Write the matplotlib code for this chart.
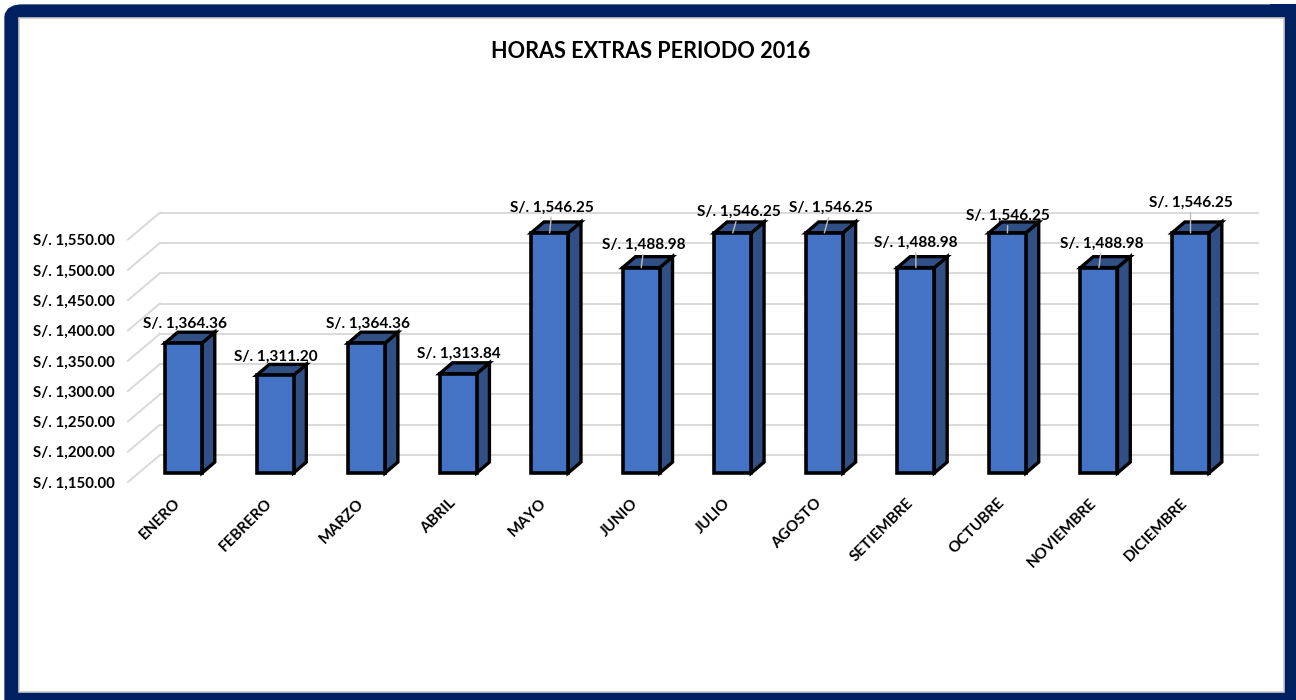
import matplotlib
matplotlib.use("Agg")
import matplotlib.pyplot as plt
from matplotlib.patches import Polygon, Rectangle, FancyBboxPatch
from matplotlib.transforms import ScaledTranslation

plt.rcParams['font.family'] = ['Lato', 'DejaVu Sans']
plt.rcParams['font.weight'] = 'bold'

# Data
months = ["ENERO", "FEBRERO", "MARZO", "ABRIL", "MAYO", "JUNIO", "JULIO",
          "AGOSTO", "SETIEMBRE", "OCTUBRE", "NOVIEMBRE", "DICIEMBRE"]
amounts = [1364.36, 1311.20, 1364.36, 1313.84, 1546.25, 1488.98, 1546.25,
           1546.25, 1488.98, 1546.25, 1488.98, 1546.25]
y_ticks = [1150, 1200, 1250, 1300, 1350, 1400, 1450, 1500, 1550]

# Label offsets from the bar top (pixels) and which ones have a leader line
label_dx = [1.5, 1, 1.5, 1, 2.5, 3, 6, 7, 0, 0.5, 3, 0]
label_dy = [19, 19, 19, 19.5, 25, 23, 21, 25, 25, 17, 24, 30]
has_leader = [False, False, False, False, True, True, True, True, True, True, True, True]

# Colours
navy = "#002060"
front_color = "#4472C4"
side_color = "#2F4F85"
grid_color = "#D9D9D9"

# Fake 3D depth, in axis units
bar_width = 0.404
bar_dx = 0.14
bar_dy = 18
wall_dx = 0.35   # front edge of the side wall to the back wall
back_dy = 29.7   # back wall above the bar fronts
wall_dy = -14.85 # front edge of the side wall below the bar fronts

W, H = 1296, 700
fig = plt.figure(figsize=(W / 100, H / 100), dpi=100, facecolor="white")


def fx(px):
    return px / W


def fy(px):
    return 1 - px / H


# Frame
fig.patches.append(FancyBboxPatch((fx(12), fy(712)), fx(1296), fy(12) - fy(712),
                                  boxstyle="round,pad=0,rounding_size=0.008",
                                  transform=fig.transFigure, facecolor=navy,
                                  edgecolor=navy, linewidth=11, zorder=-2))
# the top right corner is square in the reference
fig.patches.append(Rectangle((fx(1270), fy(40)), fx(30), fy(4.4) - fy(40),
                             transform=fig.transFigure, facecolor=navy,
                             edgecolor="none", zorder=-2))
fig.patches.append(Rectangle((fx(19), fy(692)), fx(1265), fy(18) - fy(692),
                             transform=fig.transFigure, facecolor="white",
                             edgecolor="#C8C8C8", linewidth=1.2, zorder=-1))

ax = fig.add_axes([137.7 / W, (H - 473) / H, 1098.6 / W, 242.4 / H])
ax.patch.set_visible(False)
ax.set_xlim(-0.5, 11.5)
ax.set_ylim(1150, 1550)
for s in ax.spines.values():
    s.set_visible(False)

# Gridlines on the back wall plus the diagonals of the side wall
grid_left = -0.257
grid_right = 11.74
for t in y_ticks:
    ax.plot([grid_left, grid_right], [t + back_dy, t + back_dy], color=grid_color,
            lw=1.4, clip_on=False, zorder=1)
    ax.plot([grid_left - wall_dx, grid_left], [t + wall_dy, t + back_dy], color=grid_color,
            lw=1.4, clip_on=False, zorder=1)

# Bars: front face, then side and top faces
x_pos = list(range(len(months)))
ax.bar(x_pos, [a - 1150 for a in amounts], width=bar_width, bottom=1150, color=front_color,
       edgecolor="black", linewidth=2.6, zorder=3, clip_on=False, joinstyle="miter")
for i, a in zip(x_pos, amounts):
    x0 = i - bar_width / 2
    x1 = i + bar_width / 2
    side = [(x1, 1150), (x1 + bar_dx, 1150 + bar_dy), (x1 + bar_dx, a + bar_dy), (x1, a)]
    top = [(x0, a), (x0 + bar_dx, a + bar_dy), (x1 + bar_dx, a + bar_dy), (x1, a)]
    for pts in (side, top):
        ax.add_patch(Polygon(pts, closed=True, facecolor=side_color, edgecolor="black",
                             linewidth=2.4, zorder=2.5, clip_on=False, joinstyle="miter"))

# Data labels
for i, a in enumerate(amounts):
    arrow = dict(arrowstyle="-", color="#BFBFBF", lw=1, shrinkA=0, shrinkB=0) if has_leader[i] else None
    ax.annotate(f"S/. {a:,.2f}", xy=(i, a), xytext=(label_dx[i], label_dy[i]),
                textcoords="offset pixels", ha="center", va="center", fontsize=11.1,
                fontweight="bold", color="black", arrowprops=arrow, zorder=5,
                annotation_clip=False)

# Axis labels
ax.set_yticks(y_ticks)
ax.set_yticklabels([f"S/. {t:,.2f}" for t in y_ticks], fontsize=10.85, fontweight="bold")
ax.tick_params(axis="y", length=0, pad=16.3)
down = ScaledTranslation(0, -9 / 100, fig.dpi_scale_trans)
for lab in ax.get_yticklabels():
    lab.set_transform(lab.get_transform() + down)

ax.set_xticks(x_pos)
ax.set_xticklabels(months, rotation=45, ha="right", rotation_mode="anchor",
                   fontsize=11, fontweight="bold")
ax.tick_params(axis="x", length=0, pad=16.6)
left = ScaledTranslation(-10 / 100, 0, fig.dpi_scale_trans)
for lab in ax.get_xticklabels():
    lab.set_transform(lab.get_transform() + left)

fig.text(651 / W, fy(51), "HORAS EXTRAS PERIODO 2016", ha="center", va="center",
         fontsize=15.6, fontweight="bold", color="black")

fig.savefig("out.png", dpi=100)
